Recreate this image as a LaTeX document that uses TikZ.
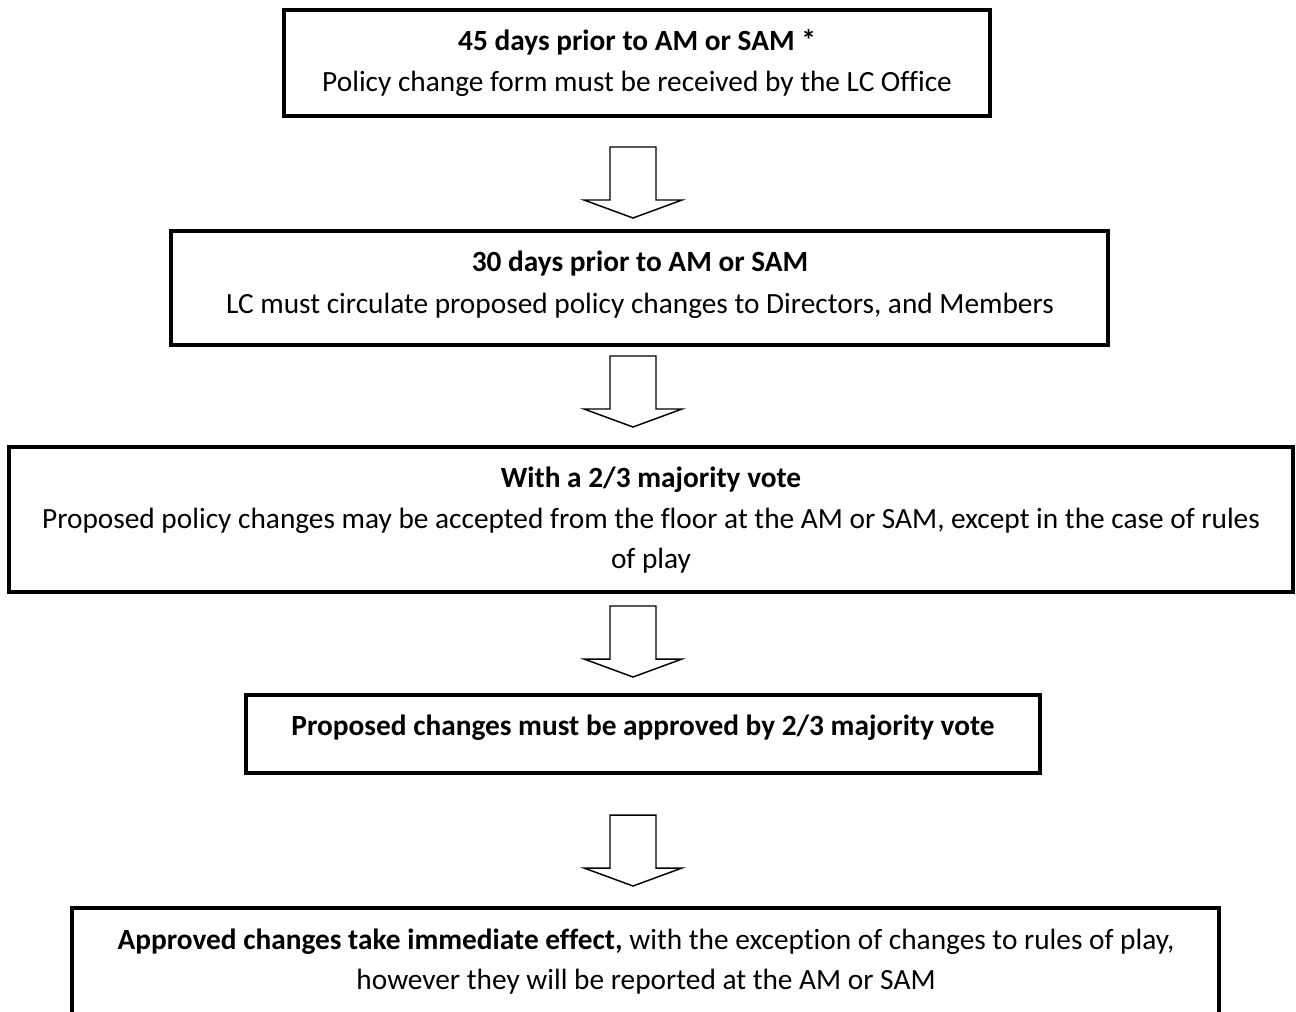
\documentclass[tikz,border=0pt]{standalone}
\usepackage{fontspec}
\setmainfont{Carlito}[Ligatures=NoCommon]
\usetikzlibrary{fit}
\begin{document}
\begin{tikzpicture}[x=0.375pt,y=-0.375pt,
  stepbox/.style={draw=black,line width=1.15pt,inner sep=0pt,fill=none},
  blockarrow/.style={draw=black,line width=0.55pt,fill=white,line join=miter},
  txt/.style={anchor=base,inner sep=0pt,font=\fontsize{11}{13}\selectfont}]
\useasboundingbox (0,0) rectangle (1296,1011);
\clip (0,0) rectangle (1296,1011);
\fill[white] (0,0) rectangle (1296,1011);
% boxes
\node[stepbox,fit={(284,10) (990,116)}] (b1) {};
\node[stepbox,fit={(171,231) (1108,345)}] (b2) {};
\node[stepbox,fit={(9,447) (1293,592)}] (b3) {};
\node[stepbox,fit={(246,695) (1040,773)}] (b4) {};
\node[stepbox,fit={(72,908) (1219,1040)}] (b5) {};
% texts
\node[txt] (t1a) at (637,50) {\textbf{45 days prior to AM or SAM *}};
\node[txt] (t1b) at (637,91) {Policy change form must be received by the LC Office};
\node[txt] (t2a) at (640,271) {\textbf{30 days prior to AM or SAM}};
\node[txt] (t2b) at (640,313) {LC must circulate proposed policy changes to Directors, and Members};
\node[txt] (t3a) at (651,487) {\textbf{With a 2/3 majority vote}};
\node[txt] (t3b) at (651,528) {Proposed policy changes may be accepted from the floor at the AM or SAM, except in the case of rules};
\node[txt] (t3c) at (651,568) {of play};
\node[txt] (t4a) at (643,735) {\textbf{Proposed changes must be approved by 2/3 majority vote}};
\node[txt] (t5a) at (646,949) {\textbf{Approved changes take immediate effect,} with the exception of changes to rules of play,};
\node[txt] (t5b) at (646,989) {however they will be reported at the AM or SAM};
% block arrows
\foreach \t/\n in {147/a1,356/a2,606/a3,815/a4}{
  \coordinate (\n) at (633,\t);
  \draw[blockarrow] ([xshift=-23*0.375pt]\n) -- ([xshift=23*0.375pt]\n)
    -- ++(0,53) -- ++(26,0) -- ([yshift=-71*0.375pt]\n) -- ++(-49,-18)
    -- ++(26,0) -- cycle;
}
\end{tikzpicture}
\end{document}
